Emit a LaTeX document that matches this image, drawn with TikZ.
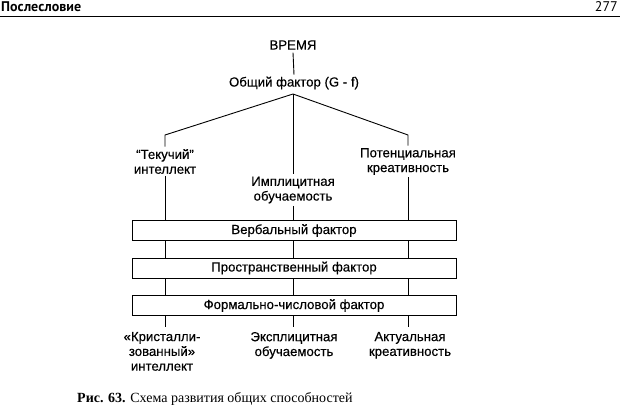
\documentclass[tikz,border=0pt]{standalone}
\usepackage{fontspec}
\setmainfont{Liberation Sans}[FakeBold=0.35]
\newfontfamily\hdrfont{PT Sans}
\newfontfamily\capfont{Liberation Serif}
\begin{document}
\begin{tikzpicture}[x=1pt,y=-1pt,
  lbl/.style={font=\fontsize{13.2}{14.8}\selectfont, align=center, inner sep=0pt, outer sep=0pt},
  fbox/.style={draw, line width=0.9pt, minimum width=324pt, minimum height=20pt, inner sep=0pt, font=\fontsize{13.2}{14.8}\selectfont},
  conn/.style={line width=0.9pt}]
\useasboundingbox (0,0) rectangle (620,412);
% header
\node[anchor=base west, inner sep=0pt, font=\hdrfont\bfseries\fontsize{14}{16}\selectfont] (hdr) at (1,12) {Послесловие};
\node[anchor=base east, inner sep=0pt, font=\hdrfont\fontsize{14}{16}\selectfont] (pg) at (618,12) {277};
\coordinate (rl) at (0,16.5);
\coordinate (rr) at (620,16.5);
\draw[line width=1pt] (rl) -- (rr);
% top
\node[lbl, inner ysep=3pt] (vr) at (293,45) {ВРЕМЯ};
\node[lbl, inner ysep=2pt] (gf) at (294,83) {Общий фактор (G - f)};
\coordinate (apex) at (293,94);
\coordinate (lc) at (165,135);
\coordinate (rc) at (408,135);
% second level
\node[lbl, inner ysep=2.5pt] (tek) at (165,161.5) {“Текучий”\\интеллект};
\node[lbl, inner ysep=2.5pt] (impl) at (293,190) {Имплицитная\\обучаемость};
\node[lbl, inner ysep=2.5pt] (pot) at (408,161.5) {Потенциальная\\креативность};
% boxes
\node[fbox] (b1) at (294,230.5) {Вербальный фактор};
\node[fbox] (b2) at (294,268) {Пространственный фактор};
\node[fbox] (b3) at (294,305.5) {Формально-числовой фактор};
% bottom
\node[lbl, anchor=north, inner ysep=0pt] (kr) at (162,332) {«Кристалли-\\зованный»\\интеллект};
\node[lbl, anchor=north, inner ysep=0pt] (ex) at (294,332) {Эксплицитная\\обучаемость};
\node[lbl, anchor=north, inner ysep=0pt] (ak) at (410,332) {Актуальная\\креативность};
\coordinate (kt) at (165,327);
\coordinate (et) at (293,327);
\coordinate (at) at (408,327);
% caption
\node[anchor=base west, inner sep=0pt, font=\capfont\fontsize{14}{16}\selectfont] (cap) at (77,402) {\textbf{Рис. 63.} Схема развития общих способностей};
% connectors
\draw[conn] (vr.south) -- (gf.north);
\draw[conn] (apex) -- (lc) -- (tek.north);
\draw[conn] (apex) -- (rc) -- (pot.north);
\draw[conn] (apex) -- (impl.north);
\draw[conn] (tek.south) -- (tek.south |- b1.north);
\draw[conn] (impl.south) -- (impl.south |- b1.north);
\draw[conn] (pot.south) -- (pot.south |- b1.north);
\foreach \x in {165,293,408}{
  \draw[conn] (\x,0 |- b1.south) -- (\x,0 |- b2.north);
  \draw[conn] (\x,0 |- b2.south) -- (\x,0 |- b3.north);
}
\draw[conn] (kt |- b3.south) -- (kt);
\draw[conn] (et |- b3.south) -- (et);
\draw[conn] (at |- b3.south) -- (at);
\end{tikzpicture}
\end{document}
